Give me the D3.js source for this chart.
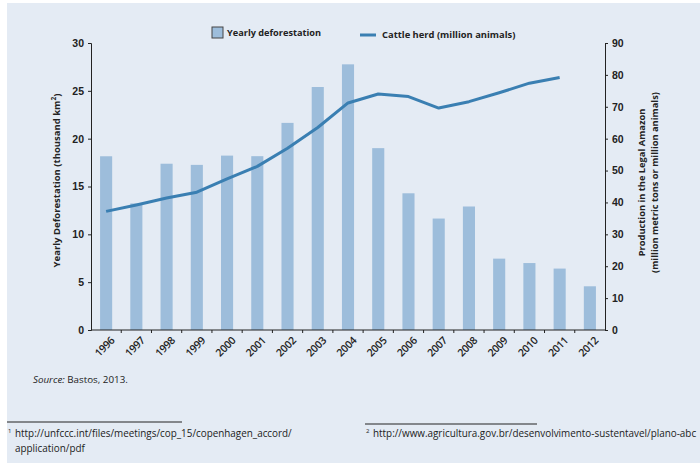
<!DOCTYPE html>
<html>
<head>
<meta charset="utf-8">
<script src="https://cdn.jsdelivr.net/npm/d3@7"></script>
<style>
  body { margin: 0; background: #fff; }
  svg { display: block; font-family: "Open Sans", sans-serif; }
  .axis path, .axis line { stroke: #222; }
  .axis text { fill: #222; font-size: 10.5px; font-weight: 600; }
</style>
</head>
<body>
<div id="chart"></div>
<script>
const years = ['1996','1997','1998','1999','2000','2001','2002','2003','2004','2005','2006','2007','2008','2009','2010','2011','2012'];
const deforestation = [18.16, 13.23, 17.38, 17.26, 18.23, 18.17, 21.65, 25.40, 27.77, 19.01, 14.29, 11.65, 12.91, 7.46, 7.00, 6.42, 4.57];
const cattleYears = ['1996','1997','1998','1999','2000','2001','2002','2003','2004','2005','2006','2007','2008','2009','2010','2011'];
const cattle = [37.2, 39.2, 41.4, 43.2, 47.4, 51.3, 57.0, 63.5, 71.2, 74.0, 73.2, 69.6, 71.6, 74.4, 77.4, 79.2];
const leftTicks = [0, 5, 10, 15, 20, 25, 30];
const rightTicks = [0, 10, 20, 30, 40, 50, 60, 70, 80, 90];

const W = 700, H = 463;
const margin = { top: 43, right: 95, bottom: 133, left: 91 };
const width = W - margin.left - margin.right;
const height = H - margin.top - margin.bottom;

const svg = d3.select('#chart').append('svg')
  .attr('width', W)
  .attr('height', H);

// panel background
svg.append('rect')
  .attr('x', 7).attr('y', 3)
  .attr('width', W - 7).attr('height', H - 3)
  .attr('fill', '#e4ebf4');

const g = svg.append('g')
  .attr('transform', 'translate(' + margin.left + ',' + margin.top + ')');

const x = d3.scaleBand().domain(years).range([0, width]).paddingInner(0.6).paddingOuter(0.3);
const xTick = d3.scaleBand().domain(years).range([0, width]);
const yL = d3.scaleLinear().domain([0, 30]).range([height, 0]);
const yR = d3.scaleLinear().domain([0, 90]).range([height, 0]);

// bars
g.selectAll('.bar')
  .data(deforestation)
  .enter()
  .append('rect')
  .attr('class', 'bar')
  .attr('x', (d, i) => x(years[i]))
  .attr('width', x.bandwidth())
  .attr('y', d => yL(d))
  .attr('height', d => height - yL(d))
  .attr('fill', '#9dbddb');

// cattle line
const line = d3.line()
  .x((d, i) => xTick(cattleYears[i]) + xTick.bandwidth() / 2)
  .y(d => yR(d));

g.append('path')
  .datum(cattle)
  .attr('d', line)
  .attr('fill', 'none')
  .attr('stroke', '#3a7fb2')
  .attr('stroke-width', 3)
  .attr('stroke-linejoin', 'round');

// x axis with ticks at band edges
const xAxisG = g.append('g')
  .attr('class', 'axis')
  .attr('transform', 'translate(0,' + height + ')');
xAxisG.append('line').attr('x1', 0).attr('x2', width).attr('stroke', '#222');
xAxisG.selectAll('.xt')
  .data(years.slice(1))
  .enter()
  .append('line')
  .attr('x1', d => xTick(d)).attr('x2', d => xTick(d))
  .attr('y1', 0).attr('y2', 3)
  .attr('stroke', '#222');
xAxisG.selectAll('.xl')
  .data(years)
  .enter()
  .append('text')
  .attr('transform', d => 'translate(' + (xTick(d) + xTick.bandwidth() / 2 + 4) + ',6) rotate(-45)')
  .attr('text-anchor', 'end')
  .attr('dy', '0.7em')
  .attr('letter-spacing', -0.3)
  .text(d => d);

// left axis
g.append('g')
  .attr('class', 'axis')
  .call(d3.axisLeft(yL).tickValues(leftTicks).tickSize(3).tickSizeOuter(3).tickPadding(4));

// right axis
g.append('g')
  .attr('class', 'axis')
  .attr('transform', 'translate(' + width + ',0)')
  .call(d3.axisRight(yR).tickValues(rightTicks).tickSize(3).tickSizeOuter(3).tickPadding(4));

// axis titles
svg.append('text')
  .attr('transform', 'translate(60,' + (margin.top + height / 2 - 6) + ') rotate(-90)')
  .attr('text-anchor', 'middle')
  .attr('font-size', 9.5)
  .attr('font-weight', 700)
  .attr('fill', '#222')
  .html('Yearly Deforestation (thousand km<tspan dy="-4" font-size="6.5">2</tspan><tspan dy="4">)</tspan>');

const rt = svg.append('text')
  .attr('transform', 'translate(645,' + (margin.top + height / 2 - 4) + ') rotate(-90)')
  .attr('text-anchor', 'middle')
  .attr('font-size', 9.3)
  .attr('font-weight', 700)
  .attr('fill', '#222');
rt.append('tspan').attr('x', 0).attr('dy', 0).text('Production in the Legal Amazon');
rt.append('tspan').attr('x', 0).attr('dy', 13).text('(million metric tons or million animals)');

// legend
svg.append('rect')
  .attr('x', 212).attr('y', 27).attr('width', 11).attr('height', 11)
  .attr('fill', '#9dbddb').attr('stroke', '#444').attr('stroke-width', 1);
svg.append('text')
  .attr('x', 227).attr('y', 36)
  .attr('font-size', 9.2).attr('font-weight', 700).attr('fill', '#222')
  .text('Yearly deforestation');
svg.append('line')
  .attr('x1', 360).attr('x2', 376).attr('y1', 35).attr('y2', 35)
  .attr('stroke', '#3a7fb2').attr('stroke-width', 3);
svg.append('text')
  .attr('x', 382).attr('y', 38)
  .attr('font-size', 9.4).attr('font-weight', 700).attr('fill', '#222')
  .text('Cattle herd (million animals)');

// source
const src = svg.append('text')
  .attr('x', 33).attr('y', 383)
  .attr('font-size', 9.8).attr('fill', '#222');
src.append('tspan').attr('font-style', 'italic').text('Source:');
src.append('tspan').text(' Bastos, 2013.');

// footnotes
svg.append('line').attr('x1', 7).attr('x2', 182).attr('y1', 422).attr('y2', 422)
  .attr('stroke', '#222').attr('stroke-width', 1);
svg.append('line').attr('x1', 365).attr('x2', 537).attr('y1', 424).attr('y2', 424)
  .attr('stroke', '#222').attr('stroke-width', 1);

const fn1 = svg.append('text').attr('font-size', 9.9).attr('fill', '#222');
fn1.append('tspan').attr('x', 8).attr('y', 433).attr('font-size', 6).text('1');
fn1.append('tspan').attr('x', 15).attr('y', 437).text('http://unfccc.int/files/meetings/cop_15/copenhagen_accord/');
fn1.append('tspan').attr('x', 15).attr('y', 452).text('application/pdf');

const fn2 = svg.append('text').attr('font-size', 9.9).attr('fill', '#222');
fn2.append('tspan').attr('x', 366).attr('y', 433).attr('font-size', 6).text('2');
fn2.append('tspan').attr('x', 373).attr('y', 437).text('http://www.agricultura.gov.br/desenvolvimento-sustentavel/plano-abc');
</script>
</body>
</html>
